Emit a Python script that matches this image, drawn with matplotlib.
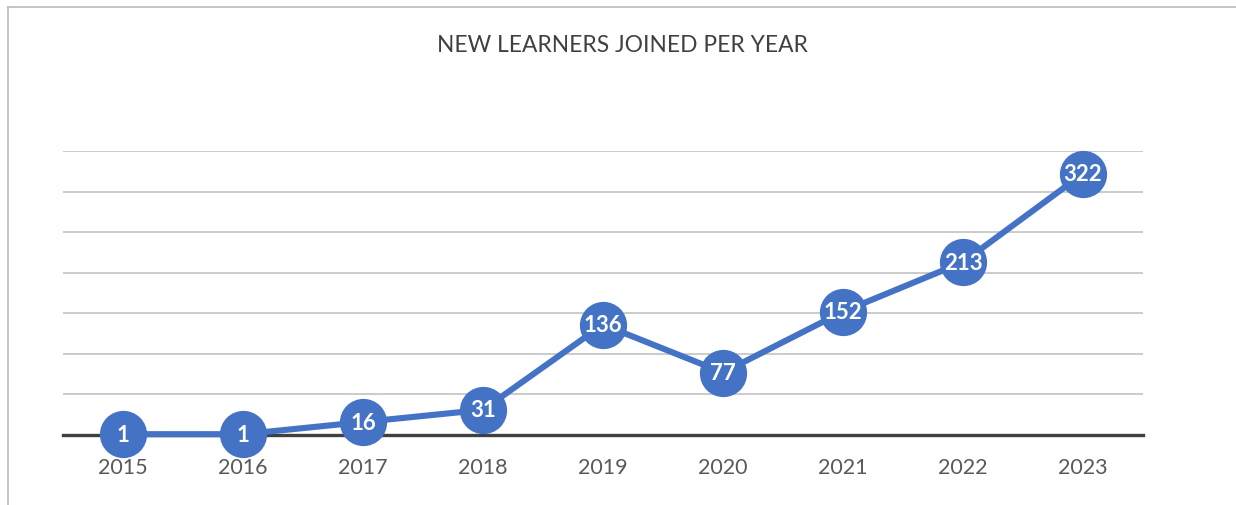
import matplotlib.pyplot as plt
from matplotlib.lines import Line2D

years = ['2015', '2016', '2017', '2018', '2019', '2020', '2021', '2022', '2023']
learners = [1, 1, 16, 31, 136, 77, 152, 213, 322]

W, H = 1236, 506
fig = plt.figure(figsize=(W / 100, H / 100), dpi=100)
plt.rcParams['font.family'] = ['Lato', 'DejaVu Sans']

# plot area in pixels: x 63..1143, y 152..436
ax = fig.add_axes([63 / W, (H - 436) / H, 1080 / W, 284 / H])
x = list(range(len(years)))

blue = '#4472C4'
ax.plot(x, learners, color=blue, lw=4.4, marker='o', markersize=33,
        markerfacecolor=blue, markeredgecolor=blue, zorder=3, clip_on=False)
for xi, v in zip(x, learners):
    ax.text(xi, v, str(v), color='white', fontsize=16, ha='center', va='center',
            fontweight='bold', zorder=4)

ax.set_xlim(-0.5, len(years) - 0.5)
ax.set_ylim(0, 350)
ax.set_yticks(range(0, 351, 50))
ax.yaxis.grid(True, color='#bdbdbd', lw=1.1)
ax.set_axisbelow(True)
ax.axhline(0, color='#404040', lw=2.4, zorder=2, clip_on=False)
for s in ax.spines.values():
    s.set_visible(False)
ax.tick_params(axis='y', left=False, labelleft=False)
ax.tick_params(axis='x', bottom=False, pad=12, labelsize=15.5, labelcolor='#595959')
ax.set_xticks(x)
ax.set_xticklabels(years)

fig.text(622 / W, 1 - 45 / H, 'NEW LEARNERS JOINED PER YEAR', ha='center', va='center',
         fontsize=16.4, color='#404040')

# chart frame (only left and top visible in the crop)
fig.add_artist(Line2D([7.5 / W, 7.5 / W], [1 - 7.5 / H, 0], transform=fig.transFigure,
                      color='#c0c0c0', lw=1.3))
fig.add_artist(Line2D([7.5 / W, 1], [1 - 7.5 / H, 1 - 7.5 / H], transform=fig.transFigure,
                      color='#c0c0c0', lw=1.3))

fig.savefig('out.png', dpi=100)
